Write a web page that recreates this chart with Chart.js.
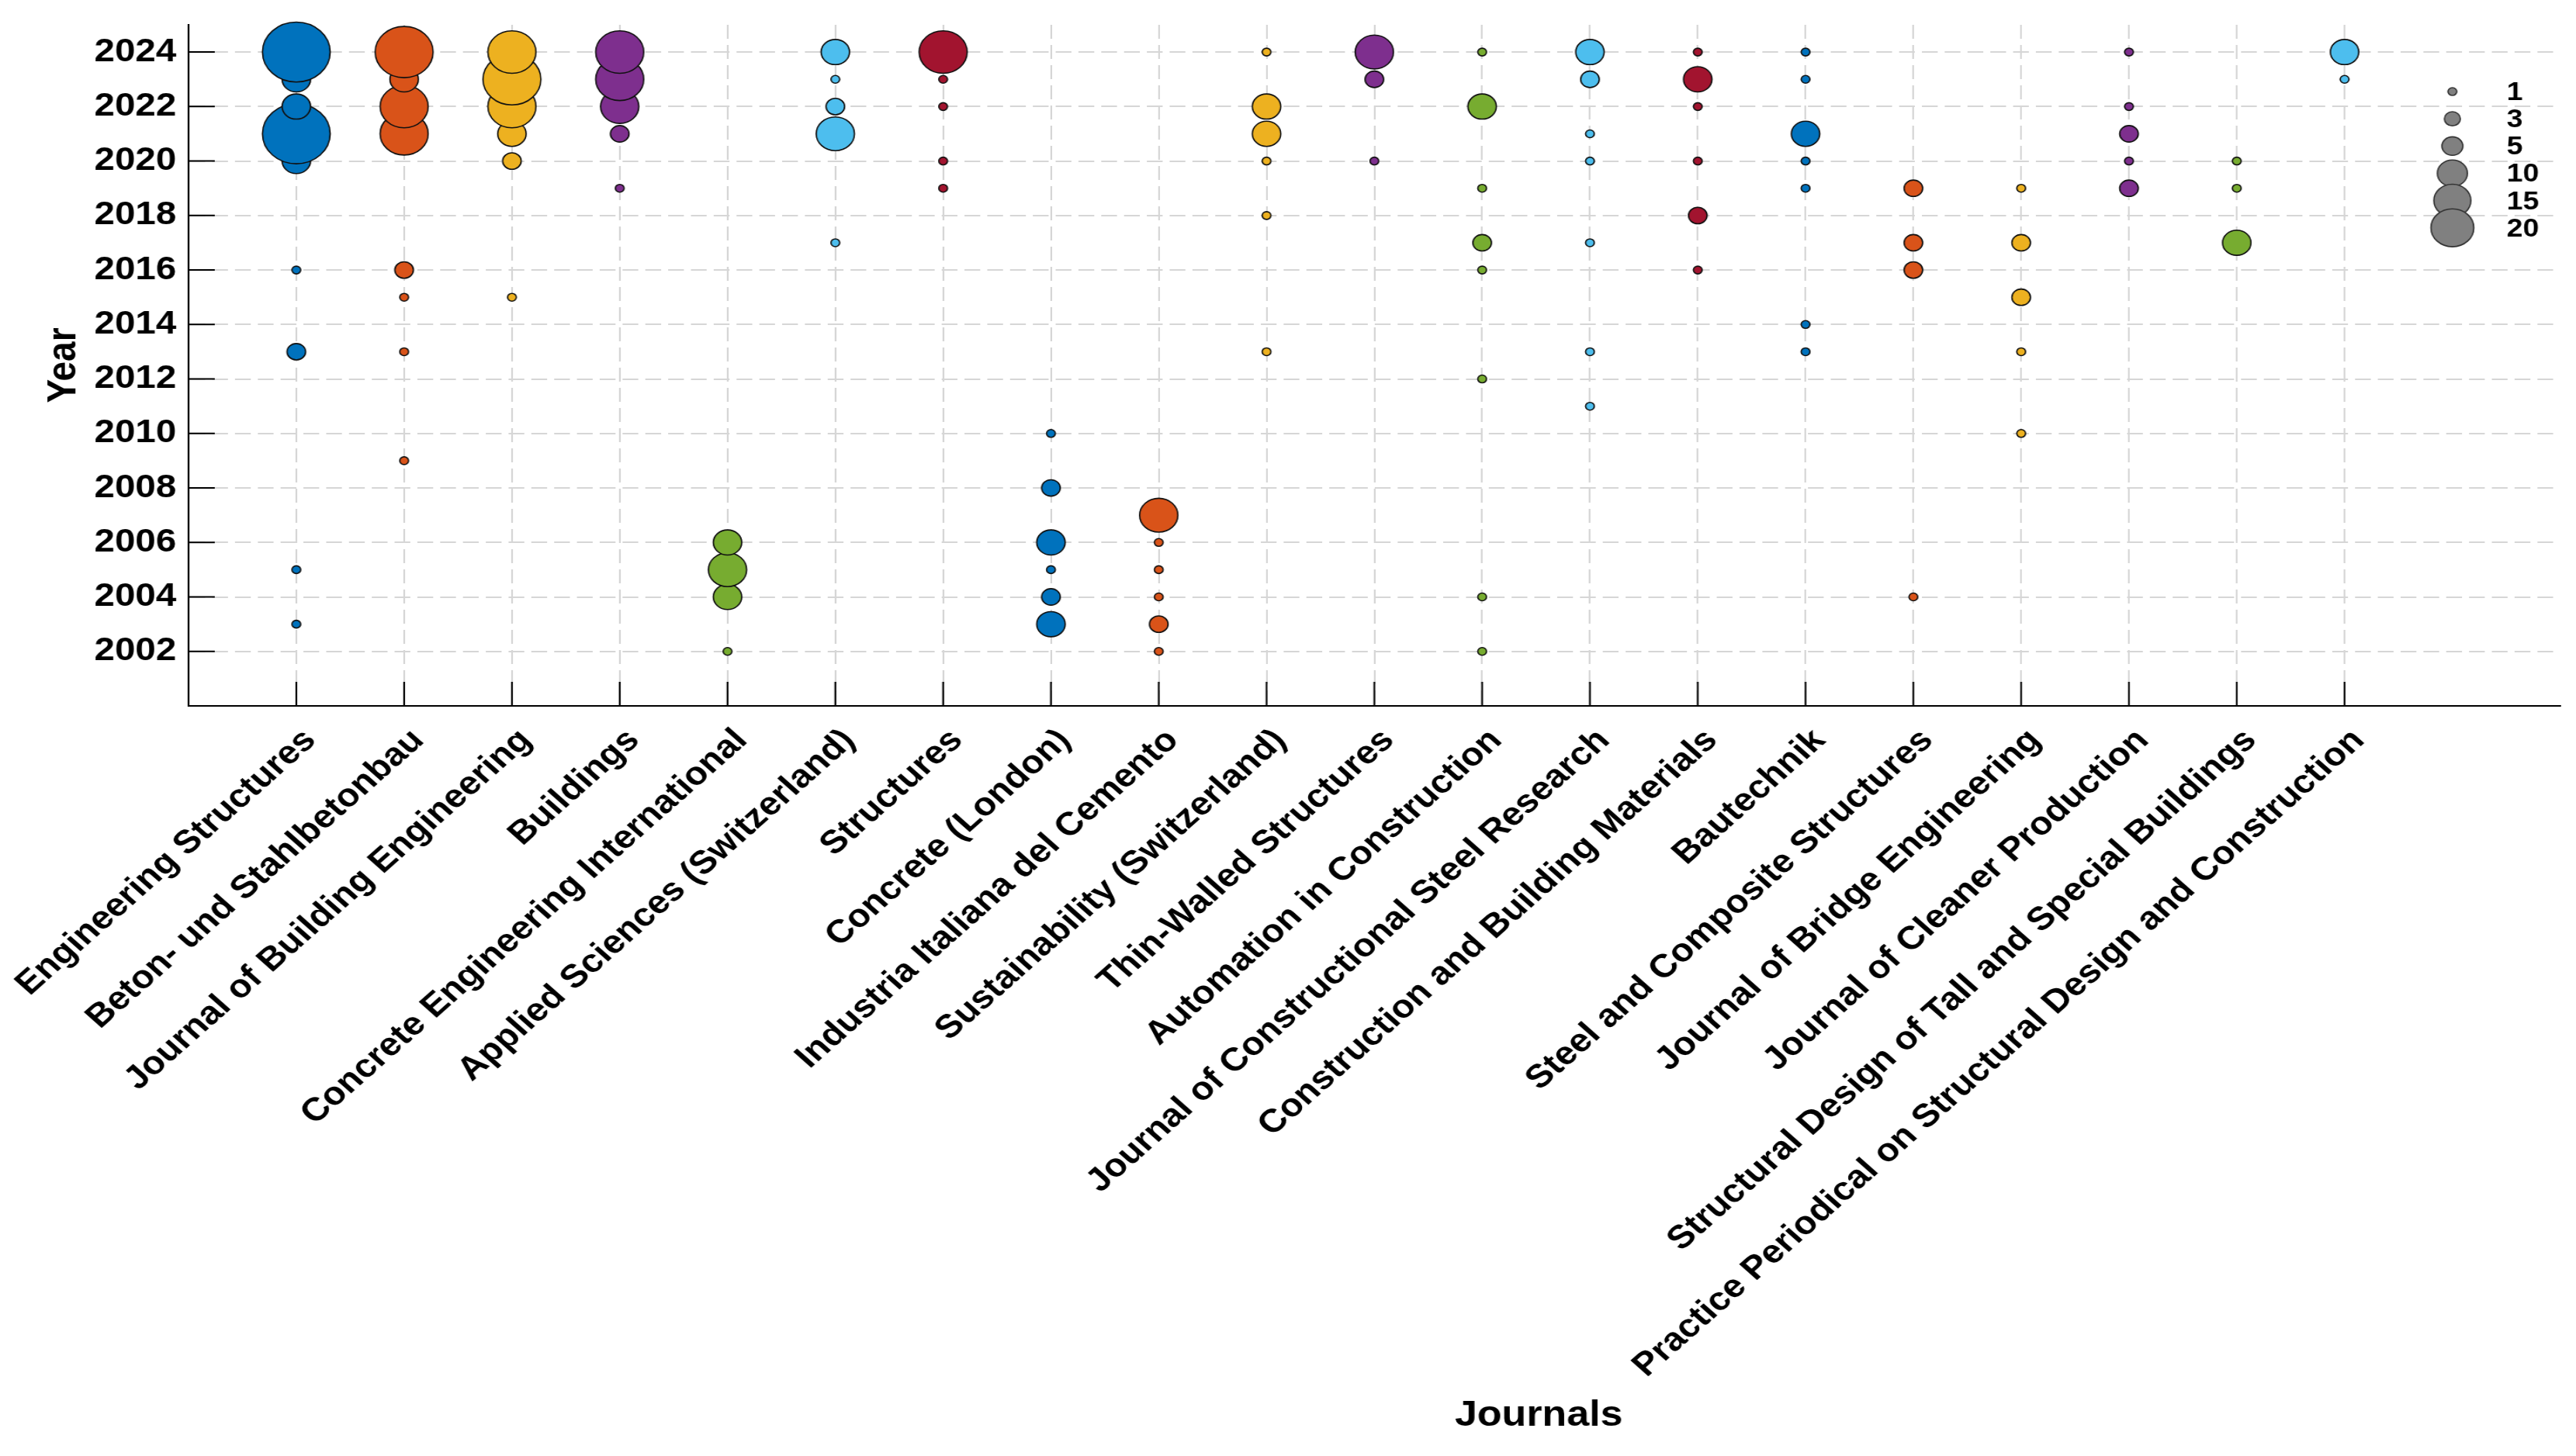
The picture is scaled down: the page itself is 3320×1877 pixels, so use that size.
<!DOCTYPE html>
<html>
<head>
<meta charset="utf-8">
<title>Journals by year</title>
<script src="https://cdn.jsdelivr.net/npm/chart.js@4.4.1/dist/chart.umd.min.js"></script>
<style>
  html, body { margin: 0; padding: 0; background: #fff; overflow: hidden; }
  #wrap { position: relative; width: 3320px; height: 1877px; overflow: hidden; background: #fff; }
  /* the original figure is a little wider than it is tall, so stretch the canvas sideways */
  #chart { position: absolute; left: 0; top: 0; transform: scaleX(1.13); transform-origin: 0 0; }
</style>
</head>
<body>
<div id="wrap"><canvas id="chart" width="2938" height="1877"></canvas></div>
<script>
// journals on the x axis, in plotting order
const journals = [
  "Engineering Structures",
  "Beton- und Stahlbetonbau",
  "Journal of Building Engineering",
  "Buildings",
  "Concrete Engineering International",
  "Applied Sciences (Switzerland)",
  "Structures",
  "Concrete (London)",
  "Industria Italiana del Cemento",
  "Sustainability (Switzerland)",
  "Thin-Walled Structures",
  "Automation in Construction",
  "Journal of Constructional Steel Research",
  "Construction and Building Materials",
  "Bautechnik",
  "Steel and Composite Structures",
  "Journal of Bridge Engineering",
  "Journal of Cleaner Production",
  "Structural Design of Tall and Special Buildings",
  "Practice Periodical on Structural Design and Construction"
];

// years with publications, one list per journal
const pubYears = [
  [2003, 2005, 2013, 2016, 2020, 2021, 2022, 2023, 2024],
  [2009, 2013, 2015, 2016, 2021, 2022, 2023, 2024],
  [2015, 2020, 2021, 2022, 2023, 2024],
  [2019, 2021, 2022, 2023, 2024],
  [2002, 2004, 2005, 2006],
  [2017, 2021, 2022, 2023, 2024],
  [2019, 2020, 2022, 2023, 2024],
  [2003, 2004, 2005, 2006, 2008, 2010],
  [2002, 2003, 2004, 2005, 2006, 2007],
  [2013, 2018, 2020, 2021, 2022, 2024],
  [2020, 2023, 2024],
  [2002, 2004, 2012, 2016, 2017, 2019, 2022, 2024],
  [2011, 2013, 2017, 2020, 2021, 2023, 2024],
  [2016, 2018, 2020, 2022, 2023, 2024],
  [2013, 2014, 2019, 2020, 2021, 2023, 2024],
  [2004, 2016, 2017, 2019],
  [2010, 2013, 2015, 2017, 2019],
  [2019, 2020, 2021, 2022, 2024],
  [2017, 2019, 2020],
  [2023, 2024]
];

// bubble size values matching pubYears, read against the size legend
const pubCounts = [
  [1, 1, 4, 1, 9, 49, 9, 9, 49],
  [1, 1, 1, 4, 25, 25, 9, 36],
  [1, 4, 9, 25, 36, 25],
  [1, 4, 16, 25, 25],
  [1, 9, 16, 9],
  [1, 16, 4, 1, 9],
  [1, 1, 1, 1, 25],
  [9, 4, 1, 9, 4, 1],
  [1, 4, 1, 1, 1, 16],
  [1, 1, 1, 9, 9, 1],
  [1, 4, 16],
  [1, 1, 1, 1, 4, 1, 9, 1],
  [1, 1, 1, 1, 1, 4, 9],
  [1, 4, 1, 1, 9, 1],
  [1, 1, 1, 1, 9, 1, 1],
  [1, 4, 4, 4],
  [1, 1, 4, 4, 1],
  [4, 1, 4, 1, 1],
  [9, 1, 1],
  [1, 9]
];

const yearTicks = [2002, 2004, 2006, 2008, 2010, 2012, 2014, 2016, 2018, 2020, 2022, 2024];
const legendSizes = [1, 3, 5, 10, 15, 20];

// MATLAB default colour order, cycled over the journals
const palette = ["#0072BD", "#D95319", "#EDB120", "#7E2F8E", "#77AC30", "#4DBEEE", "#A2142F"];
const FONT = '"Liberation Sans", Arial, Helvetica, sans-serif';
const GRID = "#d6d6d6";
const TICK_LEN = 31;

// bubble area grows with the value
function bubbleRadius(v) {
  return 5.6 * Math.sqrt(v) - 0.6;
}

const datasets = journals.map((name, i) => ({
  label: name,
  data: pubYears[i].map((yr, k) => ({ x: i + 1, y: yr, r: bubbleRadius(pubCounts[i][k]) })),
  backgroundColor: palette[i % palette.length],
  borderColor: "#111",
  borderWidth: 1.6,
  clip: false
}));

// size key, drawn as grey bubbles inside the axes
datasets.push({
  label: "size key",
  data: legendSizes.map((s, i) => ({ x: 21, y: 2022.55 - i, r: bubbleRadius(s) })),
  backgroundColor: "#808080",
  borderColor: "#333",
  borderWidth: 1.6,
  clip: false
});
const keyIndex = datasets.length - 1;

// inward ticks, size key labels and axis titles
const decorations = {
  id: "decorations",
  afterDatasetsDraw(chart) {
    const { ctx, chartArea, scales } = chart;
    const x = scales.x, y = scales.y;
    ctx.save();
    ctx.strokeStyle = "#000";
    ctx.lineWidth = 2;
    ctx.beginPath();
    x.ticks.forEach(t => {
      const px = x.getPixelForValue(t.value);
      ctx.moveTo(px, chartArea.bottom);
      ctx.lineTo(px, chartArea.bottom - TICK_LEN);
    });
    y.ticks.forEach(t => {
      const py = y.getPixelForValue(t.value);
      ctx.moveTo(chartArea.left, py);
      ctx.lineTo(chartArea.left + TICK_LEN - 1, py);
    });
    ctx.stroke();

    ctx.fillStyle = "#000";
    ctx.textAlign = "left";
    ctx.textBaseline = "middle";
    ctx.font = "bold 33px " + FONT;
    chart.getDatasetMeta(keyIndex).data.forEach((el, i) => {
      ctx.fillText(String(legendSizes[i]), el.x + 62, el.y + 2);
    });

    ctx.font = "bold 46px " + FONT;
    ctx.textAlign = "center";
    ctx.fillText("Journals", 1755, 1825);
    ctx.translate(73, (chartArea.top + chartArea.bottom) / 2);
    ctx.rotate(-Math.PI / 2);
    ctx.fillText("Year", 0, 0);
    ctx.restore();
  }
};

const tickFont = { family: FONT, size: 42, weight: "bold" };

const config = {
  type: "bubble",
  data: { datasets: datasets },
  options: {
    responsive: false,
    animation: false,
    events: [],
    layout: { autoPadding: false, padding: { top: 32, right: 18, left: 0, bottom: 0 } },
    plugins: {
      legend: { display: false },
      tooltip: { enabled: false }
    },
    scales: {
      x: {
        type: "linear",
        min: 0,
        max: 22,
        afterBuildTicks: s => { s.ticks = journals.map((_, i) => ({ value: i + 1 })); },
        afterFit: s => { s.height = 967; s.paddingLeft = 0; s.paddingRight = 0; },
        grid: { color: GRID, lineWidth: 2, drawTicks: false },
        border: { display: true, color: "#000", width: 2, dash: [18, 8] },
        ticks: {
          autoSkip: false,
          minRotation: 45,
          maxRotation: 45,
          padding: 20,
          labelOffset: 16,
          color: "#000",
          font: tickFont,
          callback: v => journals[v - 1] || ""
        }
      },
      y: {
        type: "linear",
        min: 2000,
        max: 2025,
        afterBuildTicks: s => { s.ticks = yearTicks.map(v => ({ value: v })); },
        afterFit: s => { s.width = 215; s.paddingTop = 0; s.paddingBottom = 0; },
        grid: { color: GRID, lineWidth: 2, drawTicks: false },
        border: { display: true, color: "#000", width: 2, dash: [18, 8] },
        ticks: {
          padding: 14,
          color: "#000",
          font: tickFont,
          callback: v => String(v)
        }
      }
    }
  },
  plugins: [decorations]
};

const ctx = document.getElementById("chart").getContext("2d");
const bubbleChart = new Chart(ctx, config);
</script>
</body>
</html>
